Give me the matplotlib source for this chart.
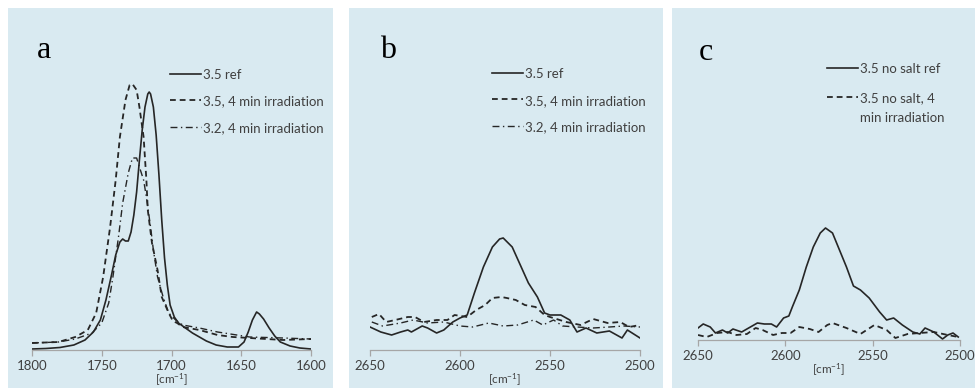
#! /usr/bin/env python3

'''
IR difference spectra of the carbonyl (a) and S-H (b, c) regions,
before and after 4 min irradiation.
'''

import matplotlib
matplotlib.use('Agg')
import matplotlib.pyplot as plt
from matplotlib.patches import Rectangle

plt.rcParams['font.family'] = ['Lato', 'DejaVu Sans']

panel_bg = '#d9eaf1'
ink = '#262626'
grey_text = '#404040'
xlabel = r'[cm$\mathregular{^{-1}}$]'

# --- panel a: 1800-1600 cm-1 -------------------------------------------
a_ref_wn = [1800, 1790, 1780, 1770, 1762, 1756, 1751, 1747, 1743, 1740,
            1737, 1735, 1733, 1731, 1729, 1727, 1725, 1723, 1721, 1719,
            1717, 1716, 1715, 1713, 1711, 1709, 1707, 1705, 1703, 1701,
            1698, 1695, 1690, 1685, 1680, 1675, 1668, 1660, 1652, 1648,
            1645, 1642, 1639, 1637, 1634, 1630, 1626, 1622, 1615, 1608,
            1600]
a_ref = [0.01, 0.015, 0.025, 0.05, 0.10, 0.18, 0.30, 0.50, 0.75, 0.95,
         1.08, 1.11, 1.09, 1.09, 1.18, 1.35, 1.58, 1.90, 2.20, 2.43,
         2.56, 2.58, 2.56, 2.43, 2.15, 1.75, 1.30, 0.92, 0.65, 0.45,
         0.33, 0.27, 0.22, 0.17, 0.13, 0.09, 0.05, 0.03, 0.03, 0.08,
         0.18, 0.30, 0.38, 0.36, 0.31, 0.22, 0.14, 0.08, 0.04, 0.02,
         0.01]

a_irr_wn = [1800, 1781, 1769, 1760, 1754, 1749, 1744, 1740, 1737, 1733,
            1730, 1728, 1725, 1723, 1720, 1718, 1717, 1714, 1710, 1707,
            1702, 1699, 1696, 1692, 1680, 1667, 1656, 1644, 1632, 1620,
            1600]
a_irr = [0.07, 0.08, 0.13, 0.20, 0.37, 0.73, 1.23, 1.70, 2.13, 2.50,
         2.65, 2.66, 2.60, 2.43, 2.13, 1.70, 1.40, 1.07, 0.80, 0.53,
         0.37, 0.29, 0.27, 0.23, 0.20, 0.15, 0.13, 0.12, 0.11, 0.10,
         0.11]

a_32_wn = [1800, 1781, 1769, 1757, 1750, 1745, 1742, 1738, 1735, 1731,
           1728, 1725, 1723, 1720, 1718, 1715, 1713, 1710, 1706, 1702,
           1697, 1692, 1680, 1667, 1644, 1620, 1600]
a_32 = [0.07, 0.08, 0.11, 0.17, 0.27, 0.47, 0.73, 1.13, 1.47, 1.77,
        1.92, 1.92, 1.83, 1.70, 1.53, 1.23, 1.00, 0.73, 0.53, 0.37,
        0.30, 0.25, 0.22, 0.18, 0.13, 0.12, 0.11]

# --- panel b: 2650-2500 cm-1 -------------------------------------------
b_ref_wn = [2650, 2644, 2638, 2633, 2629, 2627, 2621, 2618, 2613, 2609,
            2604, 2600, 2596, 2592, 2587, 2582, 2578, 2576, 2571, 2566,
            2562, 2557, 2553, 2550, 2544, 2539, 2535, 2530, 2524, 2517,
            2510, 2507, 2500]
b_ref = [0.23, 0.18, 0.15, 0.18, 0.20, 0.18, 0.24, 0.22, 0.17, 0.20,
         0.28, 0.32, 0.35, 0.57, 0.83, 1.03, 1.11, 1.12, 1.03, 0.83,
         0.67, 0.53, 0.37, 0.35, 0.35, 0.30, 0.18, 0.22, 0.17, 0.19,
         0.12, 0.20, 0.12]

b_irr_wn = [2649, 2645, 2641, 2636, 2629, 2625, 2620, 2613, 2607, 2603,
            2596, 2591, 2586, 2582, 2577, 2574, 2569, 2564, 2558, 2553,
            2550, 2541, 2533, 2526, 2518, 2511, 2506, 2500]
b_irr = [0.33, 0.36, 0.28, 0.30, 0.33, 0.33, 0.28, 0.30, 0.30, 0.35,
         0.33, 0.40, 0.45, 0.52, 0.53, 0.52, 0.50, 0.45, 0.43, 0.35,
         0.33, 0.28, 0.25, 0.31, 0.27, 0.28, 0.23, 0.25]

b_32_wn = [2649, 2643, 2633, 2626, 2618, 2609, 2600, 2593, 2584, 2576,
           2568, 2559, 2554, 2548, 2543, 2535, 2526, 2517, 2509, 2500]
b_32 = [0.28, 0.24, 0.27, 0.30, 0.27, 0.28, 0.24, 0.23, 0.27, 0.24,
        0.25, 0.30, 0.25, 0.30, 0.24, 0.23, 0.22, 0.23, 0.24, 0.23]

# --- panel c: 2650-2500 cm-1, no salt ----------------------------------
c_ref_wn = [2650, 2647, 2643, 2640, 2636, 2633, 2630, 2625, 2620, 2616,
            2612, 2608, 2605, 2601, 2598, 2596, 2592, 2588, 2584, 2580,
            2577, 2573, 2569, 2565, 2561, 2557, 2552, 2546, 2542, 2538,
            2533, 2527, 2523, 2520, 2515, 2510, 2507, 2504, 2501]
c_ref = [0.12, 0.16, 0.13, 0.07, 0.10, 0.07, 0.11, 0.08, 0.13, 0.17,
         0.16, 0.16, 0.13, 0.22, 0.24, 0.33, 0.50, 0.73, 0.93, 1.07,
         1.12, 1.07, 0.90, 0.73, 0.54, 0.50, 0.42, 0.28, 0.20, 0.22,
         0.15, 0.08, 0.06, 0.12, 0.08, 0.01, 0.05, 0.07, 0.03]

c_irr_wn = [2650, 2645, 2639, 2633, 2628, 2622, 2617, 2613, 2607, 2602,
            2597, 2592, 2586, 2581, 2576, 2573, 2565, 2557, 2549, 2542,
            2537, 2530, 2523, 2515, 2507, 2501]
c_irr = [0.05, 0.03, 0.07, 0.08, 0.05, 0.06, 0.12, 0.10, 0.05, 0.07,
         0.07, 0.13, 0.11, 0.08, 0.15, 0.17, 0.12, 0.06, 0.15, 0.10,
         0.02, 0.06, 0.07, 0.08, 0.05, 0.03]

W, H = 975, 388


def fig_box(x0, y0, x1, y1):
    'Pixel box (top-left origin) to figure fractions [l, b, w, h]'
    return [x0 / W, 1 - y1 / H, (x1 - x0) / W, (y1 - y0) / H]


def style_axis(ax, xlim, ylim):
    ax.set_xlim(*xlim)
    ax.set_ylim(*ylim)
    ax.set_facecolor('none')
    for spine in 'left', 'right', 'top':
        ax.spines[spine].set_visible(False)
    ax.spines['bottom'].set_color('#a6a6a6')
    ax.spines['bottom'].set_linewidth(0.9)
    ax.set_yticks([])
    ax.tick_params(axis='x', direction='out', length=4, width=0.9,
                   color='#a6a6a6', labelsize=9.5, labelcolor=grey_text,
                   pad=3)
    ax.set_xlabel(xlabel, fontsize=8.5, color=grey_text, labelpad=0)


def add_legend(ax, anchor, spacing, linespacing=1.2):
    leg = ax.legend(loc='upper left', bbox_to_anchor=anchor,
                    bbox_transform=ax.figure.transFigure, frameon=False,
                    borderpad=0, borderaxespad=0, handlelength=2.35,
                    handletextpad=0.15, labelspacing=spacing,
                    fontsize=9.5, labelcolor=grey_text)
    for text in leg.get_texts():
        text.set_linespacing(linespacing)
    # put the handle beside the first line of a wrapped label
    for col in leg._legend_handle_box.get_children():
        for row in col.get_children():
            row.align = 'top'
    return leg


fig = plt.figure(figsize=(W / 100, H / 100), dpi=100)

# light blue backing behind each panel, kept under the axes
for x0, x1 in ((8, 333), (349, 663), (672, 975)):
    fig.patches.append(Rectangle((x0 / W, 0), (x1 - x0) / W, 1 - 8 / H,
                                 transform=fig.transFigure,
                                 facecolor=panel_bg, edgecolor='none',
                                 zorder=-10))

solid = dict(color=ink, lw=1.2, ls='-')
dashed = dict(color=ink, lw=1.3, ls=(0, (3.2, 2.2)))
dashdot = dict(color=ink, lw=1.0, ls=(0, (5, 2.5, 1, 2.5)))

# a
ax_a = fig.add_axes(fig_box(32, 20, 311, 350))
ax_a.plot(a_ref_wn, a_ref, label='3.5 ref', **solid)
ax_a.plot(a_irr_wn, a_irr, label='3.5, 4 min irradiation', **dashed)
ax_a.plot(a_32_wn, a_32, label='3.2, 4 min irradiation', **dashdot)
style_axis(ax_a, (1800, 1600), (0, 3.30))
ax_a.set_xticks([1800, 1750, 1700, 1650, 1600])
add_legend(ax_a, (170 / W, 1 - 69 / H), 1.1)

# b
ax_b = fig.add_axes(fig_box(370, 20, 640, 350))
ax_b.plot(b_ref_wn, b_ref, label='3.5 ref', **solid)
ax_b.plot(b_irr_wn, b_irr, label='3.5, 4 min irradiation', **dashed)
ax_b.plot(b_32_wn, b_32, label='3.2, 4 min irradiation', **dashdot)
style_axis(ax_b, (2650, 2500), (0, 3.30))
ax_b.set_xticks([2650, 2600, 2550, 2500])
add_legend(ax_b, (492 / W, 1 - 68 / H), 1.12)

# c
ax_c = fig.add_axes(fig_box(698, 20, 960, 340))
ax_c.plot(c_ref_wn, c_ref, label='3.5 no salt ref', **solid)
ax_c.plot(c_irr_wn, c_irr, label='3.5 no salt, 4\nmin irradiation',
          **dashed)
style_axis(ax_c, (2650, 2500), (0, 3.20))
ax_c.set_xticks([2650, 2600, 2550, 2500])
add_legend(ax_c, (827 / W, 1 - 63 / H), 1.3, linespacing=1.75)

# panel letters
for x, y, letter in ((37, 58, 'a'), (380, 58, 'b'), (699, 60, 'c')):
    fig.text(x / W, 1 - y / H, letter, family='Liberation Serif',
             fontsize=23, color='black', va='baseline', ha='left')

fig.savefig('out.png', dpi=100)
